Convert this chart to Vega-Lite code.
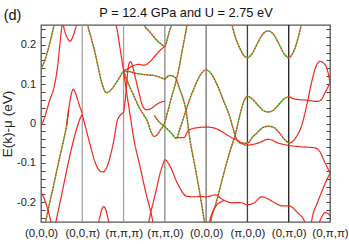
{
  "$schema": "https://vega.github.io/schema/vega-lite/v6.json",
  "autosize": {"type": "none"},
  "padding": {"left": 41, "top": 25, "right": 19, "bottom": 22},
  "width": 289,
  "height": 197,
  "background": "white",
  "config": {"font": "Liberation Sans", "view": {"stroke": "#555", "strokeWidth": 1.3}},
  "datasets": {
    "kpts": [{"k": 1}, {"k": 2}, {"k": 3}, {"k": 4}, {"k": 5}, {"k": 6}],
    "bands": [
      {"b": "A", "k": "o", "x": 0, "y": 0.138}, {"b": "A", "k": "o", "x": 0.085, "y": 0.158}, {"b": "A", "k": "o", "x": 0.16, "y": 0.183}, {"b": "A", "k": "o", "x": 0.23, "y": 0.211}, {"b": "A", "k": "o", "x": 0.3, "y": 0.242}, {"b": "A", "k": "o", "x": 0.34, "y": 0.26},
      {"b": "C", "k": "r", "x": 0, "y": -0.008}, {"b": "C", "k": "r", "x": 0.085, "y": 0.015}, {"b": "C", "k": "r", "x": 0.21, "y": 0.059}, {"b": "C", "k": "r", "x": 0.33, "y": 0.099}, {"b": "C", "k": "r", "x": 0.4, "y": 0.143}, {"b": "C", "k": "r", "x": 0.47, "y": 0.214}, {"b": "C", "k": "r", "x": 0.51, "y": 0.252}, {"b": "C", "k": "r", "x": 0.53, "y": 0.27},
      {"b": "U", "k": "r", "x": 0.5, "y": 0.28}, {"b": "U", "k": "r", "x": 0.55, "y": 0.245}, {"b": "U", "k": "r", "x": 0.59, "y": 0.229}, {"b": "U", "k": "r", "x": 0.64, "y": 0.217}, {"b": "U", "k": "r", "x": 0.7, "y": 0.209}, {"b": "U", "k": "r", "x": 0.76, "y": 0.217}, {"b": "U", "k": "r", "x": 0.81, "y": 0.232}, {"b": "U", "k": "r", "x": 0.86, "y": 0.252}, {"b": "U", "k": "r", "x": 0.89, "y": 0.27},
      {"b": "E1", "k": "o", "x": 0.09, "y": -0.26}, {"b": "E1", "k": "o", "x": 0.11, "y": -0.25}, {"b": "E1", "k": "o", "x": 0.21, "y": -0.201}, {"b": "E1", "k": "o", "x": 0.33, "y": -0.145}, {"b": "E1", "k": "o", "x": 0.45, "y": -0.087}, {"b": "E1", "k": "o", "x": 0.55, "y": -0.041}, {"b": "E1", "k": "o", "x": 0.62, "y": -0.005}, {"b": "E1", "k": "o", "x": 0.67, "y": 0.035},
      {"b": "E2", "k": "r", "x": 0.62, "y": -0.005}, {"b": "E2", "k": "r", "x": 0.67, "y": 0.035}, {"b": "E2", "k": "r", "x": 0.72, "y": 0.068}, {"b": "E2", "k": "r", "x": 0.78, "y": 0.087}, {"b": "E2", "k": "r", "x": 0.84, "y": 0.076}, {"b": "E2", "k": "r", "x": 0.9, "y": 0.056}, {"b": "E2", "k": "r", "x": 0.95, "y": 0.04}, {"b": "E2", "k": "r", "x": 1.0, "y": 0.026},
      {"b": "F", "k": "r", "x": 0.33, "y": -0.265}, {"b": "F", "k": "r", "x": 0.35, "y": -0.255}, {"b": "F", "k": "r", "x": 0.5, "y": -0.181}, {"b": "F", "k": "r", "x": 0.64, "y": -0.11}, {"b": "F", "k": "r", "x": 0.76, "y": -0.054}, {"b": "F", "k": "r", "x": 0.86, "y": -0.015}, {"b": "F", "k": "r", "x": 0.93, "y": 0.008}, {"b": "F", "k": "r", "x": 1.0, "y": 0.024},
      {"b": "G", "k": "r", "x": 0, "y": -0.178}, {"b": "G", "k": "r", "x": 0.05, "y": -0.184}, {"b": "G", "k": "r", "x": 0.12, "y": -0.203}, {"b": "G", "k": "r", "x": 0.2, "y": -0.232}, {"b": "G", "k": "r", "x": 0.26, "y": -0.26},
      {"b": "H", "k": "o", "x": 1.08, "y": 0.29}, {"b": "H", "k": "o", "x": 1.13, "y": 0.252}, {"b": "H", "k": "o", "x": 1.22, "y": 0.215}, {"b": "H", "k": "o", "x": 1.3, "y": 0.184}, {"b": "H", "k": "o", "x": 1.38, "y": 0.145}, {"b": "H", "k": "o", "x": 1.46, "y": 0.108}, {"b": "H", "k": "o", "x": 1.52, "y": 0.088}, {"b": "H", "k": "o", "x": 1.58, "y": 0.078}, {"b": "H", "k": "o", "x": 1.66, "y": 0.082}, {"b": "H", "k": "o", "x": 1.74, "y": 0.091}, {"b": "H", "k": "o", "x": 1.82, "y": 0.103}, {"b": "H", "k": "o", "x": 1.9, "y": 0.116}, {"b": "H", "k": "o", "x": 2.0, "y": 0.132}, {"b": "H", "k": "o", "x": 2.12, "y": 0.132}, {"b": "H", "k": "o", "x": 2.27, "y": 0.128}, {"b": "H", "k": "o", "x": 2.5, "y": 0.124}, {"b": "H", "k": "o", "x": 2.73, "y": 0.122}, {"b": "H", "k": "o", "x": 3.0, "y": 0.112},
      {"b": "V", "k": "r", "x": 1.0, "y": 0.022}, {"b": "V", "k": "r", "x": 1.08, "y": -0.01}, {"b": "V", "k": "r", "x": 1.18, "y": -0.05}, {"b": "V", "k": "r", "x": 1.3, "y": -0.095}, {"b": "V", "k": "r", "x": 1.42, "y": -0.12}, {"b": "V", "k": "r", "x": 1.49, "y": -0.123}, {"b": "V", "k": "r", "x": 1.56, "y": -0.118}, {"b": "V", "k": "r", "x": 1.66, "y": -0.09}, {"b": "V", "k": "r", "x": 1.76, "y": -0.045}, {"b": "V", "k": "r", "x": 1.85, "y": 0.008}, {"b": "V", "k": "r", "x": 1.93, "y": 0.022}, {"b": "V", "k": "r", "x": 2.0, "y": 0.028},
      {"b": "a", "k": "r", "x": 2.0, "y": 0.028}, {"b": "a", "k": "r", "x": 2.05, "y": 0.07}, {"b": "a", "k": "r", "x": 2.09, "y": 0.12}, {"b": "a", "k": "r", "x": 2.13, "y": 0.152}, {"b": "a", "k": "r", "x": 2.17, "y": 0.157}, {"b": "a", "k": "r", "x": 2.22, "y": 0.145}, {"b": "a", "k": "r", "x": 2.3, "y": 0.11}, {"b": "a", "k": "r", "x": 2.38, "y": 0.075}, {"b": "a", "k": "r", "x": 2.46, "y": 0.045}, {"b": "a", "k": "r", "x": 2.55, "y": 0.035}, {"b": "a", "k": "r", "x": 2.65, "y": 0.037}, {"b": "a", "k": "r", "x": 2.78, "y": 0.047}, {"b": "a", "k": "r", "x": 2.9, "y": 0.054}, {"b": "a", "k": "r", "x": 3.0, "y": 0.057},
      {"b": "IV", "k": "r", "x": 1.37, "y": -0.26}, {"b": "IV", "k": "r", "x": 1.42, "y": -0.24}, {"b": "IV", "k": "r", "x": 1.47, "y": -0.219}, {"b": "IV", "k": "r", "x": 1.52, "y": -0.211}, {"b": "IV", "k": "r", "x": 1.57, "y": -0.219}, {"b": "IV", "k": "r", "x": 1.62, "y": -0.24}, {"b": "IV", "k": "r", "x": 1.67, "y": -0.26},
      {"b": "L1u", "k": "r", "x": 1.74, "y": 0.275}, {"b": "L1u", "k": "r", "x": 1.76, "y": 0.265}, {"b": "L1u", "k": "r", "x": 1.83, "y": 0.245}, {"b": "L1u", "k": "r", "x": 1.9, "y": 0.201}, {"b": "L1u", "k": "r", "x": 2.0, "y": 0.133},
      {"b": "L1l", "k": "r", "x": 2.0, "y": 0.133}, {"b": "L1l", "k": "r", "x": 2.08, "y": 0.075}, {"b": "L1l", "k": "r", "x": 2.16, "y": 0.02}, {"b": "L1l", "k": "r", "x": 2.25, "y": -0.04}, {"b": "L1l", "k": "r", "x": 2.4, "y": -0.11}, {"b": "L1l", "k": "r", "x": 2.55, "y": -0.18}, {"b": "L1l", "k": "r", "x": 2.66, "y": -0.225}, {"b": "L1l", "k": "r", "x": 2.72, "y": -0.255}, {"b": "L1l", "k": "r", "x": 2.75, "y": -0.27},
      {"b": "bb", "k": "r", "x": 2.0, "y": 0.133}, {"b": "bb", "k": "r", "x": 2.12, "y": 0.14}, {"b": "bb", "k": "r", "x": 2.24, "y": 0.147}, {"b": "bb", "k": "r", "x": 2.36, "y": 0.15}, {"b": "bb", "k": "r", "x": 2.5, "y": 0.148}, {"b": "bb", "k": "r", "x": 2.62, "y": 0.155}, {"b": "bb", "k": "r", "x": 2.75, "y": 0.17}, {"b": "bb", "k": "r", "x": 2.88, "y": 0.185}, {"b": "bb", "k": "r", "x": 3.0, "y": 0.196},
      {"b": "Q", "k": "o", "x": 2.0, "y": 0.133}, {"b": "Q", "k": "o", "x": 2.12, "y": 0.1}, {"b": "Q", "k": "o", "x": 2.25, "y": 0.07}, {"b": "Q", "k": "o", "x": 2.38, "y": 0.04}, {"b": "Q", "k": "o", "x": 2.5, "y": 0.02}, {"b": "Q", "k": "o", "x": 2.58, "y": 0.005}, {"b": "Q", "k": "o", "x": 2.66, "y": -0.02}, {"b": "Q", "k": "o", "x": 2.74, "y": -0.033}, {"b": "Q", "k": "o", "x": 2.82, "y": -0.028}, {"b": "Q", "k": "o", "x": 2.9, "y": -0.015}, {"b": "Q", "k": "o", "x": 2.98, "y": -0.003}, {"b": "Q", "k": "o", "x": 3.07, "y": 0.03}, {"b": "Q", "k": "o", "x": 3.17, "y": 0.07}, {"b": "Q", "k": "o", "x": 3.24, "y": 0.095}, {"b": "Q", "k": "o", "x": 3.32, "y": 0.129}, {"b": "Q", "k": "o", "x": 3.42, "y": 0.185}, {"b": "Q", "k": "o", "x": 3.52, "y": 0.24}, {"b": "Q", "k": "o", "x": 3.57, "y": 0.27},
      {"b": "Vt", "k": "o", "x": 2.45, "y": 0.265}, {"b": "Vt", "k": "o", "x": 2.49, "y": 0.252}, {"b": "Vt", "k": "o", "x": 2.64, "y": 0.232}, {"b": "Vt", "k": "o", "x": 2.78, "y": 0.214}, {"b": "Vt", "k": "o", "x": 2.88, "y": 0.204}, {"b": "Vt", "k": "o", "x": 3.0, "y": 0.196}, {"b": "Vt", "k": "o", "x": 3.07, "y": 0.219}, {"b": "Vt", "k": "o", "x": 3.12, "y": 0.237}, {"b": "Vt", "k": "o", "x": 3.17, "y": 0.252}, {"b": "Vt", "k": "o", "x": 3.2, "y": 0.265},
      {"b": "L2", "k": "r", "x": 2.57, "y": -0.27}, {"b": "L2", "k": "r", "x": 2.6, "y": -0.255}, {"b": "L2", "k": "r", "x": 2.66, "y": -0.225}, {"b": "L2", "k": "r", "x": 2.72, "y": -0.2}, {"b": "L2", "k": "r", "x": 2.8, "y": -0.165}, {"b": "L2", "k": "r", "x": 2.88, "y": -0.128}, {"b": "L2", "k": "r", "x": 2.96, "y": -0.102}, {"b": "L2", "k": "r", "x": 3.0, "y": -0.092}, {"b": "L2", "k": "r", "x": 3.12, "y": -0.107}, {"b": "L2", "k": "r", "x": 3.3, "y": -0.151}, {"b": "L2", "k": "r", "x": 3.54, "y": -0.185}, {"b": "L2", "k": "r", "x": 3.72, "y": -0.186}, {"b": "L2", "k": "r", "x": 3.86, "y": -0.185}, {"b": "L2", "k": "r", "x": 4.0, "y": -0.186}, {"b": "L2", "k": "r", "x": 4.23, "y": -0.181}, {"b": "L2", "k": "r", "x": 4.37, "y": -0.191}, {"b": "L2", "k": "r", "x": 4.62, "y": -0.201}, {"b": "L2", "k": "r", "x": 4.84, "y": -0.201}, {"b": "L2", "k": "r", "x": 5.0, "y": -0.206}, {"b": "L2", "k": "r", "x": 5.17, "y": -0.201}, {"b": "L2", "k": "r", "x": 5.34, "y": -0.186}, {"b": "L2", "k": "r", "x": 5.49, "y": -0.191}, {"b": "L2", "k": "r", "x": 5.66, "y": -0.201}, {"b": "L2", "k": "r", "x": 5.85, "y": -0.209}, {"b": "L2", "k": "r", "x": 6.0, "y": -0.209}, {"b": "L2", "k": "r", "x": 6.22, "y": -0.227}, {"b": "L2", "k": "r", "x": 6.39, "y": -0.25}, {"b": "L2", "k": "r", "x": 6.44, "y": -0.265},
      {"b": "Rb", "k": "r", "x": 4.05, "y": -0.265}, {"b": "Rb", "k": "r", "x": 4.08, "y": -0.25}, {"b": "Rb", "k": "r", "x": 4.13, "y": -0.232}, {"b": "Rb", "k": "r", "x": 4.23, "y": -0.211}, {"b": "Rb", "k": "r", "x": 4.35, "y": -0.199}, {"b": "Rb", "k": "r", "x": 4.45, "y": -0.195},
      {"b": "Hm", "k": "o", "x": 2.75, "y": 0.02}, {"b": "Hm", "k": "o", "x": 2.85, "y": 0.005}, {"b": "Hm", "k": "o", "x": 3.0, "y": -0.008}, {"b": "Hm", "k": "o", "x": 3.16, "y": -0.025}, {"b": "Hm", "k": "o", "x": 3.28, "y": -0.038}, {"b": "Hm", "k": "o", "x": 3.36, "y": -0.015}, {"b": "Hm", "k": "o", "x": 3.49, "y": 0.027}, {"b": "Hm", "k": "o", "x": 3.6, "y": 0.061}, {"b": "Hm", "k": "o", "x": 3.73, "y": 0.095}, {"b": "Hm", "k": "o", "x": 3.84, "y": 0.12}, {"b": "Hm", "k": "o", "x": 4.0, "y": 0.136}, {"b": "Hm", "k": "o", "x": 4.12, "y": 0.127}, {"b": "Hm", "k": "o", "x": 4.28, "y": 0.095}, {"b": "Hm", "k": "o", "x": 4.42, "y": 0.058}, {"b": "Hm", "k": "o", "x": 4.57, "y": 0.018}, {"b": "Hm", "k": "o", "x": 4.66, "y": -0.015}, {"b": "Hm", "k": "o", "x": 4.73, "y": -0.038}, {"b": "Hm", "k": "o", "x": 4.85, "y": -0.05}, {"b": "Hm", "k": "o", "x": 5.0, "y": -0.05}, {"b": "Hm", "k": "o", "x": 5.12, "y": -0.035}, {"b": "Hm", "k": "o", "x": 5.25, "y": -0.022}, {"b": "Hm", "k": "o", "x": 5.38, "y": -0.01}, {"b": "Hm", "k": "o", "x": 5.51, "y": -0.007}, {"b": "Hm", "k": "o", "x": 5.64, "y": -0.01}, {"b": "Hm", "k": "o", "x": 5.76, "y": -0.022}, {"b": "Hm", "k": "o", "x": 5.88, "y": -0.038}, {"b": "Hm", "k": "o", "x": 6.0, "y": -0.05},
      {"b": "Hm2", "k": "r", "x": 6.0, "y": -0.05}, {"b": "Hm2", "k": "r", "x": 6.1, "y": -0.045}, {"b": "Hm2", "k": "r", "x": 6.17, "y": -0.036}, {"b": "Hm2", "k": "r", "x": 6.32, "y": -0.003}, {"b": "Hm2", "k": "r", "x": 6.44, "y": 0.048}, {"b": "Hm2", "k": "r", "x": 6.56, "y": 0.107}, {"b": "Hm2", "k": "r", "x": 6.66, "y": 0.145}, {"b": "Hm2", "k": "r", "x": 6.76, "y": 0.158}, {"b": "Hm2", "k": "r", "x": 6.85, "y": 0.153}, {"b": "Hm2", "k": "r", "x": 6.93, "y": 0.138}, {"b": "Hm2", "k": "r", "x": 7.0, "y": 0.104},
      {"b": "R1", "k": "r", "x": 3.28, "y": -0.035}, {"b": "R1", "k": "r", "x": 3.35, "y": -0.036}, {"b": "R1", "k": "r", "x": 3.46, "y": -0.036}, {"b": "R1", "k": "r", "x": 3.58, "y": -0.016}, {"b": "R1", "k": "r", "x": 3.84, "y": -0.01}, {"b": "R1", "k": "r", "x": 4.0, "y": -0.009}, {"b": "R1", "k": "r", "x": 4.18, "y": -0.011}, {"b": "R1", "k": "r", "x": 4.37, "y": -0.02}, {"b": "R1", "k": "r", "x": 4.57, "y": -0.033}, {"b": "R1", "k": "r", "x": 4.76, "y": -0.043}, {"b": "R1", "k": "r", "x": 4.98, "y": -0.055}, {"b": "R1", "k": "r", "x": 5.25, "y": -0.05}, {"b": "R1", "k": "r", "x": 5.51, "y": -0.04}, {"b": "R1", "k": "r", "x": 5.76, "y": -0.05}, {"b": "R1", "k": "r", "x": 6.03, "y": -0.056}, {"b": "R1", "k": "r", "x": 6.27, "y": -0.059}, {"b": "R1", "k": "r", "x": 6.64, "y": -0.062}, {"b": "R1", "k": "r", "x": 6.75, "y": -0.071}, {"b": "R1", "k": "r", "x": 6.88, "y": -0.1}, {"b": "R1", "k": "r", "x": 7.0, "y": -0.125},
      {"b": "D", "k": "o", "x": 3.0, "y": 0.112}, {"b": "D", "k": "o", "x": 3.12, "y": 0.122}, {"b": "D", "k": "o", "x": 3.24, "y": 0.118}, {"b": "D", "k": "o", "x": 3.36, "y": 0.087}, {"b": "D", "k": "o", "x": 3.52, "y": 0.028}, {"b": "D", "k": "o", "x": 3.6, "y": -0.036}, {"b": "D", "k": "o", "x": 3.72, "y": -0.104}, {"b": "D", "k": "o", "x": 3.84, "y": -0.173}, {"b": "D", "k": "o", "x": 3.96, "y": -0.25}, {"b": "D", "k": "o", "x": 3.99, "y": -0.27},
      {"b": "W2", "k": "o", "x": 4.09, "y": -0.27}, {"b": "W2", "k": "o", "x": 4.11, "y": -0.25}, {"b": "W2", "k": "o", "x": 4.23, "y": -0.206}, {"b": "W2", "k": "o", "x": 4.35, "y": -0.158}, {"b": "W2", "k": "o", "x": 4.47, "y": -0.11}, {"b": "W2", "k": "o", "x": 4.59, "y": -0.066}, {"b": "W2", "k": "o", "x": 4.72, "y": -0.023}, {"b": "W2", "k": "o", "x": 4.81, "y": 0.018}, {"b": "W2", "k": "o", "x": 4.91, "y": 0.055}, {"b": "W2", "k": "o", "x": 4.96, "y": 0.066}, {"b": "W2", "k": "o", "x": 5.0, "y": 0.069}, {"b": "W2", "k": "o", "x": 5.12, "y": 0.062}, {"b": "W2", "k": "o", "x": 5.25, "y": 0.047}, {"b": "W2", "k": "o", "x": 5.38, "y": 0.033}, {"b": "W2", "k": "o", "x": 5.5, "y": 0.029}, {"b": "W2", "k": "o", "x": 5.62, "y": 0.033}, {"b": "W2", "k": "o", "x": 5.75, "y": 0.047}, {"b": "W2", "k": "o", "x": 5.88, "y": 0.062}, {"b": "W2", "k": "o", "x": 6.0, "y": 0.069},
      {"b": "W2r", "k": "r", "x": 6.0, "y": 0.069}, {"b": "W2r", "k": "r", "x": 6.11, "y": 0.063}, {"b": "W2r", "k": "r", "x": 6.22, "y": 0.061}, {"b": "W2r", "k": "r", "x": 6.45, "y": 0.059}, {"b": "W2r", "k": "r", "x": 6.7, "y": 0.056}, {"b": "W2r", "k": "r", "x": 6.8, "y": 0.062}, {"b": "W2r", "k": "r", "x": 6.86, "y": 0.074}, {"b": "W2r", "k": "r", "x": 6.93, "y": 0.088}, {"b": "W2r", "k": "r", "x": 7.0, "y": 0.104},
      {"b": "Tw", "k": "o", "x": 4.57, "y": 0.27}, {"b": "Tw", "k": "o", "x": 4.63, "y": 0.248}, {"b": "Tw", "k": "o", "x": 4.72, "y": 0.215}, {"b": "Tw", "k": "o", "x": 4.82, "y": 0.19}, {"b": "Tw", "k": "o", "x": 4.92, "y": 0.172}, {"b": "Tw", "k": "o", "x": 5.0, "y": 0.167}, {"b": "Tw", "k": "o", "x": 5.1, "y": 0.175}, {"b": "Tw", "k": "o", "x": 5.25, "y": 0.205}, {"b": "Tw", "k": "o", "x": 5.38, "y": 0.228}, {"b": "Tw", "k": "o", "x": 5.5, "y": 0.235}, {"b": "Tw", "k": "o", "x": 5.62, "y": 0.228}, {"b": "Tw", "k": "o", "x": 5.75, "y": 0.205}, {"b": "Tw", "k": "o", "x": 5.9, "y": 0.175}, {"b": "Tw", "k": "o", "x": 6.0, "y": 0.167}, {"b": "Tw", "k": "o", "x": 6.08, "y": 0.175}, {"b": "Tw", "k": "o", "x": 6.18, "y": 0.2}, {"b": "Tw", "k": "o", "x": 6.27, "y": 0.235}, {"b": "Tw", "k": "o", "x": 6.33, "y": 0.262},
      {"b": "RBR", "k": "r", "x": 6.54, "y": -0.26}, {"b": "RBR", "k": "r", "x": 6.56, "y": -0.245}, {"b": "RBR", "k": "r", "x": 6.7, "y": -0.2}, {"b": "RBR", "k": "r", "x": 6.85, "y": -0.16}, {"b": "RBR", "k": "r", "x": 7.0, "y": -0.126},
      {"b": "Arc", "k": "r", "x": 6.71, "y": -0.26}, {"b": "Arc", "k": "r", "x": 6.8, "y": -0.237}, {"b": "Arc", "k": "r", "x": 6.88, "y": -0.226}, {"b": "Arc", "k": "r", "x": 6.95, "y": -0.228}, {"b": "Arc", "k": "r", "x": 7.0, "y": -0.235}
    ]
  },
  "layer": [
    {
      "data": {"name": "kpts"},
      "mark": {"type": "rule", "strokeWidth": 1.3},
      "encoding": {
        "x": {"field": "k", "type": "quantitative", "scale": {"domain": [0, 7], "nice": false, "zero": false},
          "axis": {"orient": "top", "labels": false, "ticks": false, "domain": false, "grid": false,
            "title": "P = 12.4 GPa and U = 2.75 eV", "titleX": 144.5, "titleY": -12.5, "titleAlign": "center", "titleBaseline": "middle",
            "titleFontSize": 12.8, "titleFontWeight": "normal", "titleFont": "Liberation Sans", "titleColor": "#111"}},
        "color": {"field": "k", "type": "ordinal", "legend": null,
          "scale": {"domain": [1, 2, 3, 4, 5, 6], "range": ["#a4a4a4", "#a0a0a0", "#8a8a8a", "#707070", "#404040", "#1c1c1c"]}}
      }
    },
    {
      "mark": {"type": "rule", "color": "#8c8c8c", "strokeWidth": 1.3, "strokeDash": [3, 4]},
      "encoding": {
        "y": {"datum": 0, "type": "quantitative", "scale": {"domain": [-0.25, 0.25], "nice": false, "zero": false},
          "axis": {"orient": "right", "values": [-0.24, -0.22, -0.2, -0.18, -0.16, -0.14, -0.12, -0.1, -0.08, -0.06, -0.04, -0.02, 0, 0.02, 0.04, 0.06, 0.08, 0.1, 0.12, 0.14, 0.16, 0.18, 0.2, 0.22, 0.24],
            "labels": false, "tickSize": -4, "tickColor": "#444", "domain": false, "grid": false,
            "title": "(d)", "titleAngle": 0, "titleX": -318, "titleY": -10, "titleAlign": "center", "titleBaseline": "middle",
            "titleFontSize": 14.5, "titleFontWeight": "normal", "titleFont": "Liberation Sans", "titleColor": "#111"}}
      }
    },
    {
      "data": {"name": "bands"},
      "transform": [{"filter": "datum.k == 'o'"}],
      "mark": {"type": "line", "color": "#5cc236", "strokeWidth": 1.4, "interpolate": "monotone", "clip": true},
      "encoding": {
        "x": {"field": "x", "type": "quantitative", "scale": {"domain": [0, 7], "nice": false, "zero": false},
          "axis": {"orient": "bottom", "values": [0, 1, 2, 3, 4, 5, 6, 7],
            "labelExpr": "['(0,0,0)','(0,0,π)','(π,π,π)','(π,π,0)','(0,0,0)','(π,0,0)','(0,π,0)','(0,π,π)'][datum.value]",
            "ticks": false, "domain": false, "grid": false, "labelPadding": 5, "labelFontSize": 11.5, "labelFont": "Liberation Sans",
            "labelColor": "#222", "labelFlush": false, "labelOverlap": false, "title": null}},
        "y": {"field": "y", "type": "quantitative", "scale": {"domain": [-0.25, 0.25], "nice": false, "zero": false},
          "axis": {"orient": "left", "values": [-0.24, -0.22, -0.2, -0.18, -0.16, -0.14, -0.12, -0.1, -0.08, -0.06, -0.04, -0.02, 0, 0.02, 0.04, 0.06, 0.08, 0.1, 0.12, 0.14, 0.16, 0.18, 0.2, 0.22, 0.24],
            "labelExpr": "abs(datum.value*10 - round(datum.value*10)) < 0.001 ? toString(round(datum.value*10)/10) : ''",
            "tickSize": -4, "tickColor": "#444", "labelPadding": 9.5, "domain": false, "grid": false,
            "labelFontSize": 11, "labelFont": "Liberation Sans", "labelColor": "#222", "labelOverlap": false,
            "title": "E(k)-μ (eV)", "titleFontSize": 13.5, "titleFontWeight": "normal", "titleFont": "Liberation Sans", "titleColor": "#222", "titlePadding": 2}},
        "detail": {"field": "b"}
      }
    },
    {
      "data": {"name": "bands"},
      "mark": {"type": "line", "color": "#f0281e", "strokeWidth": 1.2, "interpolate": "monotone", "clip": true},
      "encoding": {
        "x": {"field": "x", "type": "quantitative", "scale": {"domain": [0, 7], "nice": false, "zero": false}, "axis": null},
        "y": {"field": "y", "type": "quantitative", "scale": {"domain": [-0.25, 0.25], "nice": false, "zero": false}, "axis": null},
        "strokeDash": {"field": "k", "type": "nominal", "legend": null, "scale": {"domain": ["o", "r"], "range": [[1.5, 1.5], [1, 0]]}},
        "detail": {"field": "b"}
      }
    }
  ],
  "resolve": {"axis": {"x": "independent", "y": "independent"}}
}
